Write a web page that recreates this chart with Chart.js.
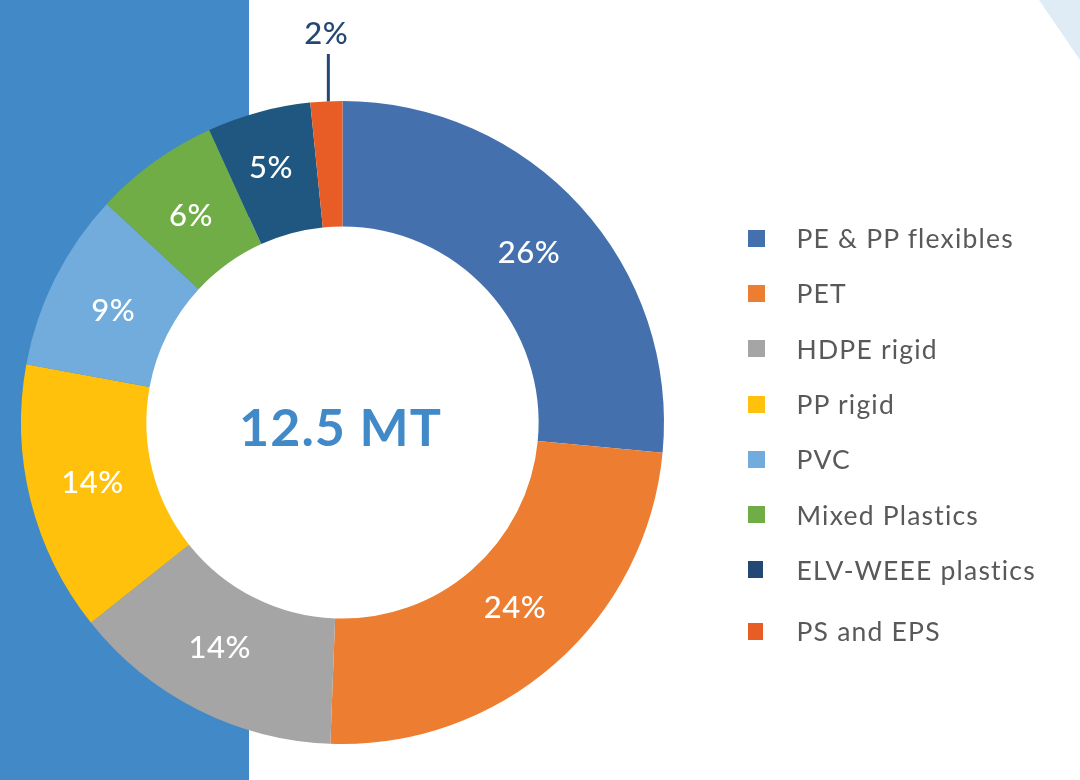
<!DOCTYPE html>
<html lang="en">
<head>
    <meta charset="UTF-8">
    <title>Plastic waste by type</title>
    <script src="https://cdn.jsdelivr.net/npm/chart.js"></script>
    <style>
        body {
            margin: 0;
            width: 1080px;
            height: 780px;
            overflow: hidden;
            position: relative;
            background: #fff;
            font-family: Lato, sans-serif;
        }
        #strip {
            position: absolute;
            left: 0;
            top: 0;
            width: 249px;
            height: 780px;
            background: #428ac7;
        }
        #corner {
            position: absolute;
            left: 1030px;
            top: 0;
            width: 50px;
            height: 70px;
            background: #dfebf5;
            clip-path: polygon(9px 0, 50px 0, 50px 60px);
        }
        #chartBox {
            position: absolute;
            left: 0;
            top: 0;
            width: 1080px;
            height: 780px;
        }
        #legend {
            position: absolute;
            left: 747.5px;
            top: 210.5px;
        }
        .row {
            display: flex;
            align-items: center;
            height: 55.3px;
            font-size: 26.5px;
            letter-spacing: 1.2px;
            color: #595959;
            white-space: nowrap;
        }
        .row:last-child {
            margin-top: 6px;
        }
        .swatch {
            width: 17px;
            height: 17px;
            margin-right: 32px;
        }
        /* last two legend squares are a little narrower */
        .row:nth-child(n+7) .swatch {
            width: 15px;
            margin-right: 34px;
        }
    </style>
</head>
<body>
<div id="strip"></div>
<div id="corner"></div>
<div id="chartBox"><canvas id="donut"></canvas></div>
<div id="legend"></div>

<script>
    const categories = ['PE & PP flexibles', 'PET', 'HDPE rigid', 'PP rigid', 'PVC', 'Mixed Plastics', 'ELV-WEEE plastics', 'PS and EPS'];
    const shares = [26.5, 24.1, 13.7, 13.6, 9.0, 6.3, 5.2, 1.6];
    const shareLabels = ['26%', '24%', '14%', '14%', '9%', '6%', '5%', '2%'];
    const sliceColors = ['#4570ae', '#ed7d31', '#a5a5a5', '#ffc10c', '#71acdc', '#70ad47', '#1f5780', '#e85d26'];
    const legendColors = ['#4570ae', '#ed7d31', '#a5a5a5', '#ffc10c', '#71acdc', '#70ad47', '#244876', '#e85d26'];
    const centerText = '12.5 MT';

    // hand placed labels, nudged from the middle of each slice
    const labelNudge = [[-5, 5], [2, -9], [-6, -5], [1, -2], [2, 5], [0, 3], [-4, -5]];

    // the hole is white even where the blue strip runs behind it
    const whiteHole = {
        id: 'whiteHole',
        beforeDatasetsDraw(chart) {
            const arc = chart.getDatasetMeta(0).data[0];
            const ctx = chart.ctx;
            ctx.save();
            ctx.fillStyle = '#fff';
            ctx.beginPath();
            ctx.arc(arc.x, arc.y, arc.innerRadius + 1, 0, Math.PI * 2);
            ctx.fill();
            ctx.restore();
        }
    };

    const sliceLabels = {
        id: 'sliceLabels',
        afterDatasetsDraw(chart) {
            const ctx = chart.ctx;
            const arcs = chart.getDatasetMeta(0).data;
            ctx.save();
            ctx.textAlign = 'center';
            ctx.textBaseline = 'middle';
            ctx.font = '500 31px Lato';
            ctx.letterSpacing = '0.5px';
            ctx.fillStyle = '#fff';
            arcs.forEach((arc, i) => {
                if (i === arcs.length - 1) return;
                const pos = arc.tooltipPosition();
                ctx.fillText(shareLabels[i], pos.x + labelNudge[i][0], pos.y + labelNudge[i][1]);
            });

            // the smallest slice gets its label outside, with a leader line
            const last = arcs[arcs.length - 1];
            const mid = (last.startAngle + last.endAngle) / 2;
            const x = last.x + last.outerRadius * Math.cos(mid) + 2;
            const y = last.y + last.outerRadius * Math.sin(mid);
            ctx.strokeStyle = '#244876';
            ctx.lineWidth = 3;
            ctx.beginPath();
            ctx.moveTo(x, y);
            ctx.lineTo(x, 54);
            ctx.stroke();
            ctx.fillStyle = '#244876';
            ctx.fillText(shareLabels[arcs.length - 1], x - 2, 34);

            ctx.font = '700 52px Lato';
            ctx.letterSpacing = '1px';
            ctx.fillStyle = '#428ac7';
            ctx.fillText(centerText, last.x - 2, last.y + 7);
            ctx.restore();
        }
    };

    new Chart(document.getElementById('donut'), {
        type: 'doughnut',
        data: {
            labels: categories,
            datasets: [{
                data: shares,
                backgroundColor: sliceColors,
                borderWidth: 0
            }]
        },
        options: {
            responsive: true,
            maintainAspectRatio: false,
            animation: false,
            cutout: '61%',
            layout: { padding: { left: 21, right: 416, top: 101, bottom: 36 } },
            plugins: {
                legend: { display: false },
                tooltip: { enabled: false }
            }
        },
        plugins: [whiteHole, sliceLabels]
    });

    // legend is plain html, the last row sits a bit lower
    const legend = document.getElementById('legend');
    categories.forEach((name, i) => {
        const row = document.createElement('div');
        row.className = 'row';
        const swatch = document.createElement('span');
        swatch.className = 'swatch';
        swatch.style.background = legendColors[i];
        row.appendChild(swatch);
        row.appendChild(document.createTextNode(name));
        legend.appendChild(row);
    });
</script>
</body>
</html>
